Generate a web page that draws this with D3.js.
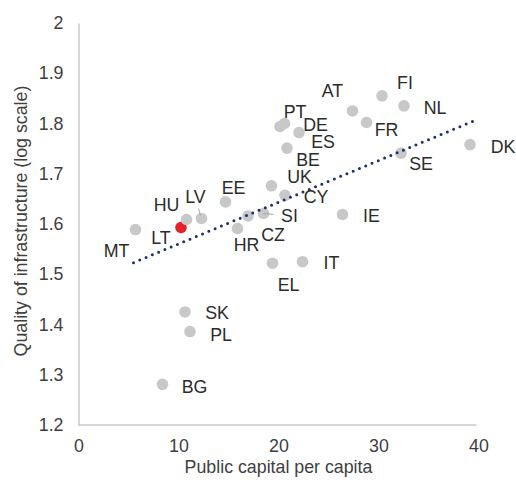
<!DOCTYPE html>
<html lang="en">
<head>
  <meta charset="UTF-8">
  <title>Quality of infrastructure vs public capital</title>
  <script src="https://d3js.org/d3.v7.min.js"></script>
  <style>
    body {
      margin: 0;
      background: #fff;
      font-family: 'Liberation Sans', Arial, sans-serif;
    }
    .tick-label { font-size: 17.8px; fill: #404040; }
    .axis-title { font-size: 17.8px; fill: #404040; }
    .country { font-size: 17.8px; fill: #2b2b2b; }
  </style>
</head>
<body>
  <svg width="516" height="484"></svg>

  <script>
    // values
    let countries = ['MT', 'LT', 'HU', 'LV', 'EE', 'UK', 'CY', 'SI', 'CZ', 'HR', 'PT', 'DE', 'ES',
      'BE', 'AT', 'FI', 'NL', 'FR', 'SE', 'DK', 'IE', 'IT', 'EL', 'SK', 'PL', 'BG'];
    let publicCapital = [5.7, 10.25, 10.8, 12.3, 14.7, 19.3, 20.65, 18.5, 16.95, 15.9, 20.15, 20.6, 22.05,
      20.85, 27.4, 30.35, 32.55, 28.8, 32.25, 39.15, 26.4, 22.4, 19.4, 10.65, 11.15, 8.4];
    let infraQuality = [1.589, 1.593, 1.609, 1.611, 1.644, 1.676, 1.657, 1.621, 1.616, 1.591, 1.794, 1.800, 1.782,
      1.751, 1.825, 1.855, 1.835, 1.802, 1.741, 1.758, 1.619, 1.525, 1.522, 1.425, 1.386, 1.281];
    let highlight = 'LT';

    // fitted trend line end points
    let trendX = [5.5, 39.5];
    let trendY = [1.523, 1.805];

    let xTicks = [0, 10, 20, 30, 40];
    let yTicks = [1.2, 1.3, 1.4, 1.5, 1.6, 1.7, 1.8, 1.9, 2];

    // label placement relative to each point (px)
    let labelOffset = {
      MT: [-19, 21], LT: [-20, 10], HU: [-20, -15], LV: [-6, -22], EE: [8, -14],
      UK: [28, -9], CY: [31, 1], SI: [26, 2], CZ: [25, 19], HR: [9, 16],
      PT: [15, -15], DE: [31, 1], ES: [24, 9], BE: [21, 12], AT: [-20, -20],
      FI: [23, -13], NL: [31, 2], FR: [20, 7], SE: [20, 11], DK: [33, 2],
      IE: [29, 1], IT: [29, 1], EL: [16, 22], SK: [32, 1], PL: [31, 3], BG: [32, 2]
    };

    let svg = d3.select('svg');
    let margin = { top: 23, left: 78.5, right: 37.5, bottom: 59 };
    let width = 516 - margin.left - margin.right;
    let height = 484 - margin.top - margin.bottom;

    let chart = svg.append('g')
      .attr('transform', `translate(${margin.left},${margin.top})`);

    let x = d3.scaleLinear().domain([0, 40]).range([0, width]);
    let y = d3.scaleLinear().domain([1.2, 2]).range([height, 0]);

    // axes: plain gray lines, no tick marks
    let xAxis = chart.append('g')
      .attr('transform', `translate(0,${height})`)
      .call(d3.axisBottom(x).tickValues(xTicks).tickSize(0).tickPadding(14).tickFormat(d3.format('d')));
    let yAxis = chart.append('g')
      .call(d3.axisLeft(y).tickValues(yTicks).tickSize(0).tickPadding(15).tickFormat(d => String(+d.toFixed(1))));

    [xAxis, yAxis].forEach(a => {
      a.select('.domain').attr('stroke', '#c8c8c8').attr('stroke-width', 1.5);
      a.selectAll('text').attr('class', 'tick-label').attr('font-family', null).attr('font-size', null);
    });
    xAxis.select('.domain').attr('d', `M0,0H${width - 2}`);

    chart.append('text')
      .attr('class', 'axis-title')
      .attr('x', width / 2)
      .attr('y', height + 48)
      .attr('text-anchor', 'middle')
      .text('Public  capital per capita');

    chart.append('text')
      .attr('class', 'axis-title')
      .attr('transform', `translate(${21 - margin.left},${height / 2 - 3}) rotate(-90)`)
      .attr('text-anchor', 'middle')
      .attr('dy', '0.35em')
      .text('Quality of infrastructure (log scale)');

    let data = countries.map((c, i) => ({ code: c, x: publicCapital[i], y: infraQuality[i] }));

    // points
    chart.selectAll('.dot')
      .data(data)
      .enter().append('circle')
      .attr('class', 'dot')
      .attr('cx', d => x(d.x))
      .attr('cy', d => y(d.y))
      .attr('r', 5.8)
      .attr('fill', d => d.code === highlight ? '#e8202a' : '#c8c8c8');

    // dotted trend line
    chart.append('line')
      .attr('x1', x(trendX[0])).attr('y1', y(trendY[0]))
      .attr('x2', x(trendX[1])).attr('y2', y(trendY[1]))
      .attr('stroke', '#1f2f6e')
      .attr('stroke-width', 3)
      .attr('stroke-linecap', 'round')
      .attr('stroke-dasharray', '0 6.8');

    // small leader lines from label to point
    let lv = data.find(p => p.code === 'LV');
    chart.append('line')
      .attr('x1', x(lv.x) - 3).attr('y1', y(lv.y) - 10)
      .attr('x2', x(lv.x) - 1).attr('y2', y(lv.y) - 3)
      .attr('stroke', '#a6a6a6');
    let si = data.find(p => p.code === 'SI');
    chart.append('line')
      .attr('x1', x(si.x)).attr('y1', y(si.y))
      .attr('x2', x(si.x) + 10).attr('y2', y(si.y) + 1)
      .attr('stroke', '#a6a6a6');

    chart.selectAll('.country')
      .data(data)
      .enter().append('text')
      .attr('class', 'country')
      .attr('x', d => x(d.x) + labelOffset[d.code][0])
      .attr('y', d => y(d.y) + labelOffset[d.code][1])
      .attr('dy', '0.35em')
      .attr('text-anchor', 'middle')
      .text(d => d.code);
  </script>
</body>
</html>
